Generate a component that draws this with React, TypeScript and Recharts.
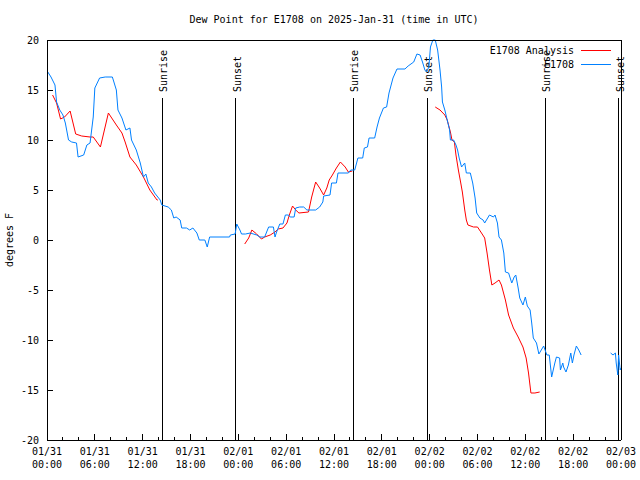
import React from 'react';
import { LineChart, Line, XAxis, YAxis, ReferenceLine, Legend } from 'recharts';

const FONT = '"DejaVu Sans Mono", "Liberation Mono", monospace';
const RED = '#ff0000';
const BLUE = '#0080ff';

const seriesNames = ['E1708 Analysis', 'E1708'];

// E1708 observations (hours since 01/31 00:00 UTC, degrees F); null = gap
const blueHours = [
  0.1, 0.5, 1.0, 1.2, 1.6, 2.0, 2.3, 2.7, 3.1, 3.7, 3.9, 4.6, 5.0, 5.4, 5.8, 6.0, 6.6, 7.3, 8.2, 8.7,
  8.9, 9.4, 9.9, 10.4, 10.6, 11.2, 11.7, 12.1, 12.4, 12.7, 13.1, 13.5, 14.2, 14.4, 15.2, 15.6, 15.9, 16.2, 16.7, 16.9,
  17.5, 17.9, 18.3, 18.8, 19.1, 19.8, 20.1, 20.4, 22.9, 23.0, 23.6, 23.8, 24.2, 24.4, 24.9, 25.5, 26.3, 26.7, 27.3, 27.8,
  28.4, 28.6, 28.8, 29.2, 29.6, 29.9, 30.3, 30.5, 31.0, 31.2, 31.7, 32.2, 32.6, 33.7, 34.2, 34.6, 34.7, 35.5, 35.7, 36.3,
  36.5, 37.8, 38.1, 38.6, 39.0, 39.6, 39.8, 40.2, 40.4, 41.1, 41.4, 41.7, 42.2, 42.6, 42.9, 43.4, 43.9, 44.9, 45.3, 46.0,
  46.4, 46.8, 47.1, 47.4, 47.6, 47.9, 48.1, 48.4, 48.7, 49.0, 49.3, 49.5, 49.6, 49.9, 50.2, 50.5, 50.6, 51.0, 51.3, 51.5,
  51.7, 52.0, 52.2, 52.4, 52.6, 53.1, 53.4, 53.7, 53.9, 54.3, 54.7, 54.9, 55.5, 56.0, 56.2, 56.5, 56.7, 57.0, 57.3, 57.5,
  57.9, 58.3, 58.6, 58.8, 59.1, 59.3, 59.7, 60.0, 60.25, 60.6, 60.8, 61.0, 61.4, 61.7, 62.0, 62.3, 62.7, 63.0, 63.3, 63.7,
  63.9, 64.3, 64.4, 64.7, 64.8, 65.1, 65.4, 65.7, 65.9, 66.1, 66.4, 66.7, 67.0, 68.8, 70.7, 71.0, 71.3, 71.4, 71.6, 71.7,
  71.9, 72.0,
];
const blueValues = [
  16.8, 16.3, 15.5, 13.8, 13.0, 12.5, 11.7, 10.0, 9.8, 9.7, 8.3, 8.5, 9.5, 9.7, 12.3, 15.2, 16.2, 16.3, 16.3, 15.0,
  13.0, 12.2, 11.0, 11.2, 10.0, 9.0, 7.7, 6.3, 6.6, 5.7, 5.3, 4.7, 4.0, 3.5, 3.3, 3.0, 2.2, 2.3, 2.0, 1.2,
  1.2, 1.0, 1.2, 0.7, 0.0, 0.0, -0.7, 0.3, 0.3, 0.5, 0.6, 1.6, 1.0, 0.6, 0.6, 0.7, 0.5, 0.3, 0.3, 1.3,
  1.3, 0.3, 0.8, 1.6, 1.6, 2.5, 2.5, 2.3, 2.3, 3.2, 3.3, 3.3, 3.0, 3.0, 3.3, 3.8, 4.4, 4.5, 5.7, 5.7,
  6.7, 6.7, 7.0, 7.0, 8.2, 8.2, 9.2, 9.3, 10.2, 10.2, 11.3, 12.2, 13.2, 13.3, 14.7, 16.2, 17.1, 17.1, 17.4, 17.8,
  18.6, 18.5, 17.8, 17.0, 16.8, 17.3, 19.3, 20.0, 20.0, 19.0, 17.0, 15.3, 13.8, 13.0, 12.0, 11.0, 10.0, 10.0, 9.5, 9.0,
  8.2, 7.3, 7.5, 7.7, 6.7, 6.7, 5.7, 4.2, 2.7, 2.2, 2.0, 1.7, 2.5, 2.3, 2.5, 1.7, 0.3, 0.0, -1.3, -3.2,
  -3.3, -4.3, -3.7, -3.5, -4.8, -5.8, -6.5, -5.7, -6.6, -7.0, -8.3, -9.8, -10.3, -11.4, -11.0, -10.6, -11.5, -11.5, -13.7, -12.3,
  -11.7, -11.8, -13.0, -12.3, -12.7, -13.2, -12.5, -11.3, -12.3, -11.5, -10.6, -11.0, -11.5, null, -11.3, -11.5, -11.3, -12.3, -13.5, -11.5,
  -13.0, -12.8,
];

// E1708 Analysis
const redHours = [
  0.7, 1.2, 1.7, 2.2, 2.9, 3.6, 4.35, 5.4, 5.8, 6.7, 7.7, 8.7, 9.4, 9.8, 10.4, 11.2, 12.1, 12.9, 13.8, 13.9,
  19.0, 24.8, 25.3, 25.7, 26.3, 26.9, 27.3, 28.0, 28.6, 29.0, 29.6, 30.1, 30.4, 30.8, 31.2, 31.6, 32.8, 33.2, 33.7, 34.2,
  34.7, 35.1, 35.4, 35.8, 36.3, 36.8, 37.4, 37.8, 38.3, 43.0, 48.7, 49.3, 49.9, 50.2, 50.6, 50.8, 51.1, 51.3, 51.6, 51.9,
  52.1, 52.4, 52.6, 52.8, 53.5, 54.0, 54.5, 54.9, 55.2, 55.5, 55.8, 56.2, 56.7, 57.0, 57.5, 57.9, 58.5, 59.1, 59.7, 60.1,
  60.4, 60.7, 61.2, 61.8,
];
const redValues = [
  14.5, 13.7, 12.1, 12.3, 12.9, 10.6, 10.4, 10.3, 10.3, 9.3, 12.7, 11.5, 10.7, 9.8, 8.3, 7.5, 6.3, 5.0, 4.0, 4.0,
  null, -0.4, 0.2, 1.0, 0.6, 0.1, 0.3, 0.5, 0.8, 1.1, 1.2, 1.7, 2.5, 3.4, 3.0, 2.7, 2.8, 4.3, 5.8, 5.2,
  4.5, 5.2, 6.0, 6.5, 7.2, 7.8, 7.3, 6.8, 6.9, null, 13.3, 13.0, 12.5, 12.0, 10.8, 10.0, 9.8, 8.5, 7.0, 5.7,
  4.8, 3.0, 2.0, 1.5, 1.3, 1.3, 0.7, 0.2, -1.3, -3.0, -4.5, -4.3, -4.0, -4.5, -6.0, -7.5, -8.8, -9.7, -10.7, -11.8,
  -13.3, -15.3, -15.3, -15.2,
];

const xTickHours = [0, 2, 4, 6, 8, 10, 12, 14, 16, 18, 20, 22, 24, 26, 28, 30, 32, 34, 36, 38, 40, 42, 44, 46, 48, 50, 52, 54, 56, 58, 60, 62, 64, 66, 68, 70, 72];
const xTickDates = ['01/31', '01/31', '01/31', '01/31', '02/01', '02/01', '02/01', '02/01', '02/02', '02/02', '02/02', '02/02', '02/03'];
const xTickTimes = ['00:00', '06:00', '12:00', '18:00', '00:00', '06:00', '12:00', '18:00', '00:00', '06:00', '12:00', '18:00', '00:00'];
const yTicks = [-20, -15, -10, -5, 0, 5, 10, 15, 20];

const sunHours = [14.45, 23.67, 38.43, 47.7, 62.5, 71.72];
const sunLabels = ['Sunrise', 'Sunset', 'Sunrise', 'Sunset', 'Sunrise', 'Sunset'];
const sunLineTop = 14.2;

const blueData = blueHours.map((h, i) => ({ h, v: blueValues[i] }));
const redData = redHours.map((h, i) => ({ h, v: redValues[i] }));

const txt = { fontFamily: FONT, fontSize: 10, fill: '#000' } as const;

const BottomTick = (props: any) => {
  const { x, y, payload } = props;
  const v = payload.value as number;
  const major = v % 6 === 0;
  const idx = Math.round(v / 6);
  return (
    <g>
      <line x1={x} y1={y} x2={x} y2={y - (major ? 6 : 3)} stroke="#000" shapeRendering="crispEdges" />
      {major && (
        <>
          <text x={x} y={y + 15} textAnchor="middle" {...txt}>{xTickDates[idx]}</text>
          <text x={x} y={y + 28} textAnchor="middle" {...txt}>{xTickTimes[idx]}</text>
        </>
      )}
    </g>
  );
};

const TopTick = (props: any) => {
  const { x, y, payload } = props;
  const major = (payload.value as number) % 6 === 0;
  return <line x1={x} y1={y} x2={x} y2={y + (major ? 6 : 3)} stroke="#000" shapeRendering="crispEdges" />;
};

const LeftTick = (props: any) => {
  const { x, y, payload } = props;
  return (
    <g>
      <line x1={x} y1={y} x2={x + 6} y2={y} stroke="#000" shapeRendering="crispEdges" />
      <text x={x - 8} y={y + 4} textAnchor="end" {...txt}>{payload.value}</text>
    </g>
  );
};

const RightTick = (props: any) => {
  const { x, y } = props;
  return <line x1={x} y1={y} x2={x - 6} y2={y} stroke="#000" shapeRendering="crispEdges" />;
};

const TitleLabel = (props: any) => {
  const vb = props.viewBox || { x: 47, y: 10, width: 574, height: 30 };
  return (
    <text x={vb.x + vb.width / 2} y={vb.y + vb.height - 17} textAnchor="middle" {...txt}>
      Dew Point for E1708 on 2025-Jan-31 (time in UTC)
    </text>
  );
};

const YLabel = (props: any) => {
  const vb = props.viewBox || { x: 0, y: 40, width: 47, height: 400 };
  const cx = vb.x + 13;
  const cy = vb.y + vb.height / 2;
  return (
    <text x={cx} y={cy} textAnchor="middle" transform={`rotate(-90 ${cx} ${cy})`} {...txt}>
      degrees F
    </text>
  );
};

const makeSunLabel = (label: string) => (props: any) => {
  const vb = props.viewBox || { x: 0, y: 0 };
  const lx = vb.x + 5;
  const ly = vb.y - 6;
  return (
    <text x={lx} y={ly} textAnchor="start" transform={`rotate(-90 ${lx} ${ly})`} {...txt}>
      {label}
    </text>
  );
};

const renderLegend = (props: any) => {
  const items = ((props.payload || []) as any[])
    .slice()
    .sort((a, b) => seriesNames.indexOf(a.value) - seriesNames.indexOf(b.value));
  return (
    <svg width={640} height={32} style={{ display: 'block' }}>
      {items.map((it, i) => (
        <g key={i}>
          <text x={574} y={14 + i * 14} textAnchor="end" {...txt}>{it.value}</text>
          <line x1={581} y1={10 + i * 14} x2={611} y2={10 + i * 14} stroke={it.color} shapeRendering="crispEdges" />
        </g>
      ))}
    </svg>
  );
};

export default function App() {
  return (
    <div style={{ position: 'absolute', left: 0, top: 0, width: 640, height: 480, background: '#fff' }}>
      <LineChart width={640} height={480} margin={{ top: 10, right: 0, bottom: 0, left: 0 }}>
        <XAxis
          xAxisId="bottom"
          dataKey="h"
          type="number"
          domain={[0, 72]}
          ticks={xTickHours}
          interval={0}
          allowDuplicatedCategory={false}
          height={40}
          tickSize={0}
          tickMargin={0}
          tickLine={false}
          tick={<BottomTick />}
          axisLine={{ stroke: '#000', shapeRendering: 'crispEdges' }}
        />
        <XAxis
          xAxisId="top"
          orientation="top"
          dataKey="h"
          type="number"
          domain={[0, 72]}
          ticks={xTickHours}
          interval={0}
          allowDuplicatedCategory={false}
          height={30}
          tickSize={0}
          tickMargin={0}
          tickLine={false}
          tick={<TopTick />}
          axisLine={{ stroke: '#000', shapeRendering: 'crispEdges' }}
          label={<TitleLabel />}
        />
        <YAxis
          yAxisId="left"
          type="number"
          domain={[-20, 20]}
          ticks={yTicks}
          interval={0}
          width={47}
          tickSize={0}
          tickMargin={0}
          tickLine={false}
          tick={<LeftTick />}
          axisLine={{ stroke: '#000', shapeRendering: 'crispEdges' }}
          label={<YLabel />}
        />
        <YAxis
          yAxisId="right"
          orientation="right"
          type="number"
          domain={[-20, 20]}
          ticks={yTicks}
          interval={0}
          width={19}
          tickSize={0}
          tickMargin={0}
          tickLine={false}
          tick={<RightTick />}
          axisLine={{ stroke: '#000', shapeRendering: 'crispEdges' }}
        />
        {sunHours.map((h, i) => (
          <ReferenceLine
            key={i}
            xAxisId="bottom"
            yAxisId="left"
            segment={[{ x: h, y: sunLineTop }, { x: h, y: -20 }]}
            stroke="#000"
            strokeWidth={1}
            shapeRendering="crispEdges"
            label={makeSunLabel(sunLabels[i])}
            ifOverflow="visible"
          />
        ))}
        <Line
          xAxisId="bottom"
          yAxisId="left"
          data={redData}
          dataKey="v"
          name={seriesNames[0]}
          stroke={RED}
          strokeWidth={1}
          dot={false}
          activeDot={false}
          connectNulls={false}
          isAnimationActive={false}
          type="linear"
        />
        <Line
          xAxisId="bottom"
          yAxisId="left"
          data={blueData}
          dataKey="v"
          name={seriesNames[1]}
          stroke={BLUE}
          strokeWidth={1}
          dot={false}
          activeDot={false}
          connectNulls={false}
          isAnimationActive={false}
          type="linear"
        />
        <Legend
          layout="vertical"
          align="center"
          verticalAlign="middle"
          content={renderLegend}
          wrapperStyle={{ top: 40, left: 0, width: 640, height: 32 }}
        />
      </LineChart>
    </div>
  );
}
